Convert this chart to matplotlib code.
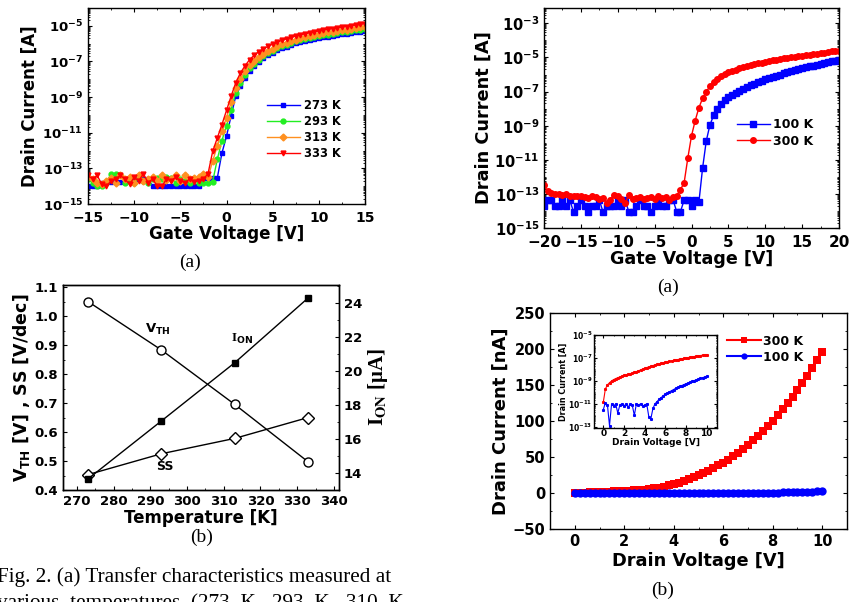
import numpy as np
import matplotlib.pyplot as plt
from matplotlib.ticker import MultipleLocator, LogLocator, NullFormatter

plt.rcParams['font.family'] = ['DejaVu Sans']
plt.rcParams['font.weight'] = 'bold'
plt.rcParams['axes.labelweight'] = 'bold'
plt.rcParams['mathtext.default'] = 'bf'
plt.rcParams['xtick.direction'] = 'in'
plt.rcParams['ytick.direction'] = 'in'
plt.rcParams['axes.linewidth'] = 1.0

# ---------------- data: transfer curves vs temperature (log10 of I_D [A]) ----
vg_a = np.arange(-15, 15.01, 0.5)
temp_labels = ['273 K', '293 K', '313 K', '333 K']
temp_colors = ['#0000ff', '#22ee22', '#ff9020', '#ff0000']
temp_markers = ['s', 'o', 'D', 'v']
logid_273 = [-14.0, -14.0, -14.0, -13.8, -13.75, -13.75, -13.75, -13.75, -13.75, -13.6,
             -13.6, -13.6, -13.6, -13.6, -14.0, -14.0, -14.0, -14.0, -14.0, -14.0,
             -14.0, -14.0, -14.0, -14.0, -14.0,
             -13.55, -13.55, -13.55, -13.55, -12.15, -11.2, -10.05, -8.95, -8.4, -7.95,
             -7.52, -7.25, -7.02, -6.83, -6.65, -6.50, -6.38, -6.27, -6.17, -6.07,
             -5.99, -5.92, -5.85, -5.79, -5.74, -5.69, -5.64, -5.60, -5.56, -5.52,
             -5.48, -5.44, -5.40, -5.36, -5.32, -5.28]
logid_293 = [-13.6, -13.8, -14.0, -14.0, -13.8, -13.3, -13.3, -13.4, -13.8, -13.6,
             -13.8, -13.55, -13.7, -13.8, -13.6, -13.55, -13.6, -13.5, -13.55, -13.8,
             -13.6, -13.7, -13.8, -13.6, -13.8,
             -13.8, -13.8, -13.75, -12.5, -11.45, -10.6, -9.7, -8.75, -8.2, -7.75,
             -7.38, -7.12, -6.9, -6.71, -6.54, -6.39, -6.27, -6.16, -6.06, -5.96,
             -5.88, -5.81, -5.74, -5.68, -5.63, -5.58, -5.53, -5.49, -5.45, -5.41,
             -5.37, -5.33, -5.29, -5.25, -5.21, -5.17]
logid_313 = [-13.5, -13.6, -13.8, -13.9, -13.7, -13.55, -13.8, -13.4, -13.6, -13.5,
             -13.8, -13.4, -13.7, -13.6, -13.5, -13.7, -13.4, -13.65, -13.6, -13.4,
             -13.7, -13.35, -13.6, -13.55, -13.5,
             -13.3, -13.5, -12.6, -11.75, -10.9, -10.15, -9.3, -8.5, -8.0, -7.55,
             -7.2, -6.97, -6.76, -6.58, -6.42, -6.28, -6.15, -6.04, -5.94, -5.85,
             -5.77, -5.70, -5.63, -5.57, -5.51, -5.46, -5.41, -5.37, -5.33, -5.29,
             -5.25, -5.21, -5.17, -5.13, -5.09, -5.05]
logid_333 = [-13.4, -13.6, -13.4, -13.9, -14.0, -13.7, -13.6, -13.4, -13.6, -13.9,
             -13.5, -13.7, -13.3, -13.8, -13.6, -14.0, -14.0, -13.6, -13.7, -13.5,
             -13.7, -13.8, -13.6, -13.75, -13.7,
             -13.6, -13.3, -12.05, -11.3, -10.55, -9.75, -8.95, -8.2, -7.65, -7.25,
             -6.9, -6.65, -6.45, -6.29, -6.15, -6.03, -5.92, -5.82, -5.73, -5.65,
             -5.58, -5.51, -5.45, -5.39, -5.34, -5.29, -5.24, -5.20, -5.16, -5.12,
             -5.08, -5.04, -5.00, -4.96, -4.92, -4.88]

# ---------------- data: transfer curves 100 K / 300 K -----------------------
vg_b = np.arange(-20, 20.01, 0.5)
logid_100k = [-13.7, -13.36, -13.36, -13.7, -13.7, -13.36, -13.7, -13.36, -14.05, -13.7,
              -13.36, -13.7, -14.05, -13.7, -13.7, -13.36, -14.05, -13.7, -13.7, -13.7,
              -13.36, -13.7, -13.36, -14.05, -14.05, -13.7, -13.36, -13.7, -13.7, -14.05,
              -13.7, -13.36, -13.7, -13.7, -13.36, -13.36, -14.05, -14.05, -13.36, -13.36,
              -13.7, -13.36, -13.5,
              -11.5, -9.9, -8.95, -8.4, -8.0, -7.7, -7.5, -7.33,
              -7.19, -7.06, -6.94, -6.83, -6.73, -6.63, -6.54, -6.45, -6.37, -6.29,
              -6.21, -6.14, -6.07, -6.0, -5.93, -5.87, -5.81, -5.75, -5.69, -5.63,
              -5.58, -5.53, -5.48, -5.43, -5.38, -5.33, -5.28, -5.23, -5.18, -5.13]
logid_300k = [-12.5, -12.85, -12.95, -13.0, -13.0, -13.05, -13.0, -13.1, -13.15, -13.1,
              -13.15, -13.2, -13.25, -13.15, -13.2, -13.3, -13.25, -13.55, -13.35, -13.05,
              -13.1, -13.3, -13.55, -13.05, -13.3, -13.25, -13.2, -13.3, -13.25, -13.2,
              -13.3, -13.1, -13.25, -13.2, -13.35, -13.2,
              -13.1, -12.75, -12.35, -10.9, -9.6,
              -8.7, -7.95, -7.4, -7.0, -6.7, -6.45, -6.25, -6.1, -5.98, -5.88,
              -5.79, -5.71, -5.64, -5.57, -5.51, -5.45, -5.40, -5.35, -5.30, -5.26,
              -5.21, -5.17, -5.13, -5.09, -5.05, -5.01, -4.98, -4.95, -4.92, -4.89,
              -4.86, -4.83, -4.80, -4.77, -4.74, -4.71, -4.68, -4.65, -4.63, -4.61]

# ---------------- data: parameters vs temperature ---------------------------
temperature = [273, 293, 313, 333]
vth = [1.05, 0.883, 0.695, 0.497]
ss = [0.453, 0.525, 0.578, 0.65]
ion = [13.65, 17.06, 20.49, 24.3]

# ---------------- data: output curves ---------------------------------------
vd = np.linspace(0, 10, 51)
id_300k_nA = [0.014, 0.2, 0.45, 0.7, 1.0, 1.3, 1.6, 1.9, 2.2, 2.6, 3.0,
              3.4, 3.8, 4.3, 4.8, 5.5, 6.4, 7.5, 9.0, 10.7, 12.5,
              14.5, 16.7, 19.1, 21.7, 24.5, 27.6, 30.9, 34.4, 38.2, 42.0,
              46.5, 51.0, 56.0, 61.5, 67.0, 73.0, 79.0, 86.0, 93.0, 100.0,
              108.0, 116.0, 124.5, 133.5, 143.0, 152.5, 163.0, 173.5, 184.5, 196.0]
logid_100k_out = [-11.5, -10.9, -11.1, -12.9, -11.0, -11.2, -11.0, -11.8, -11.1, -11.0,
                  -11.2, -11.0, -11.3, -11.0, -11.1, -12.0, -11.0, -11.1, -11.0, -11.2,
                  -11.1, -11.0, -12.1, -12.3, -11.4, -11.0, -10.8, -10.6, -10.45, -10.3,
                  -10.15, -10.05, -9.95, -9.85, -9.75, -9.65, -9.56, -9.48, -9.4, -9.32,
                  -9.25, -9.18, -9.11, -9.04, -8.97, -8.9, -8.84, -8.78, -8.72, -8.66, -8.6]

W, H = 861, 602


def frame(l, t, r, b):
    return [l / W, 1 - b / H, (r - l) / W, (b - t) / H]


def log_labels(ax, exps, fs):
    ax.set_yscale('log')
    ax.set_yticks([10.0 ** e for e in exps],
                  labels=['10$^{%d}$' % e for e in exps], fontsize=fs)
    ax.yaxis.set_minor_locator(LogLocator(base=10, subs=np.arange(1, 10), numticks=40))
    ax.yaxis.set_minor_formatter(NullFormatter())


fig = plt.figure(figsize=(W / 100, H / 100), dpi=100)

# ---- (a) top-left
ax1 = fig.add_axes(frame(88, 8, 365, 204))
for lg, lab, c, m in zip([logid_273, logid_293, logid_313, logid_333],
                         temp_labels, temp_colors, temp_markers):
    ax1.plot(vg_a, 10.0 ** np.array(lg), color=c, marker=m, ms=3.5, lw=1.0, label=lab)
ax1.set_xlim(-15, 15)
ax1.set_ylim(1e-15, 1e-4)
log_labels(ax1, [-15, -13, -11, -9, -7, -5], 9.5)
ax1.xaxis.set_major_locator(MultipleLocator(5))
ax1.xaxis.set_minor_locator(MultipleLocator(2.5))
ax1.tick_params(axis='x', labelsize=10, pad=5)
ax1.tick_params(which='both', top=True, right=True, length=3)
ax1.tick_params(which='minor', length=1.5)
ax1.set_xlabel('Gate Voltage [V]', fontsize=12, labelpad=0)
ax1.set_ylabel('Drain Current [A]', fontsize=12, labelpad=3)
ax1.legend(loc='upper left', bbox_to_anchor=(0.645, 0.535), frameon=False,
           fontsize=8.3, handlelength=2.9, handletextpad=0.3, labelspacing=0.25,
           borderpad=0, borderaxespad=0)
fig.text(190 / W, 1 - 262 / H, '(a)', family='Liberation Serif', weight='normal',
         fontsize=14, ha='center', va='center')

# ---- (a) top-right
ax2 = fig.add_axes(frame(544, 8, 839, 228))
ax2.plot(vg_b, 10.0 ** np.array(logid_100k), color='#0000ff', marker='s', ms=4,
         lw=1.0, label='100 K')
ax2.plot(vg_b, 10.0 ** np.array(logid_300k), color='#ff0000', marker='o', ms=4,
         lw=1.0, label='300 K')
ax2.set_xlim(-20, 20)
ax2.set_ylim(1e-15, 10 ** -2.1)
log_labels(ax2, [-15, -13, -11, -9, -7, -5, -3], 10.5)
ax2.xaxis.set_major_locator(MultipleLocator(5))
ax2.xaxis.set_minor_locator(MultipleLocator(2.5))
ax2.tick_params(axis='x', labelsize=11, pad=5)
ax2.tick_params(which='both', top=True, right=True, length=3)
ax2.tick_params(which='minor', length=1.5)
ax2.set_xlabel('Gate Voltage [V]', fontsize=12.6, labelpad=0)
ax2.set_ylabel('Drain Current [A]', fontsize=12.8, labelpad=1)
ax2.legend(loc='upper left', bbox_to_anchor=(0.655, 0.5), frameon=False,
           fontsize=9, handlelength=2.6, handletextpad=0.3, labelspacing=0.3,
           borderpad=0, borderaxespad=0)
fig.text(668 / W, 1 - 287 / H, '(a)', family='Liberation Serif', weight='normal',
         fontsize=14, ha='center', va='center')

# ---- (b) bottom-left
ax3 = fig.add_axes(frame(63, 285, 339, 490))
ax3.plot(temperature, vth, color='k', lw=1.0, marker='o', ms=6.5, mfc='white', mec='k')
ax3.plot(temperature, ss, color='k', lw=1.0, marker='D', ms=6, mfc='white', mec='k')
ax3.set_xlim(266.2, 341.4)
ax3.set_ylim(0.4, 1.107)
ax3.xaxis.set_major_locator(MultipleLocator(10))
ax3.xaxis.set_minor_locator(MultipleLocator(5))
ax3.yaxis.set_major_locator(MultipleLocator(0.1))
ax3.yaxis.set_minor_locator(MultipleLocator(0.05))
ax3.tick_params(labelsize=9.5, length=3)
ax3.tick_params(which='minor', length=1.5)
ax3.set_xlabel('Temperature [K]', fontsize=12, labelpad=1)
ax3.set_ylabel('V$_{TH}$ [V] , SS [V/dec]', fontsize=12.5, labelpad=2)
ax3.text(288.5, 0.955, 'V$_{TH}$', fontsize=9.5, va='center')
ax3.text(312.0, 0.92, 'I$_{ON}$', fontsize=9.5, va='center',
         family='Liberation Serif')
ax3.text(291.5, 0.48, 'SS', fontsize=9, va='center')
ax3b = ax3.twinx()
ax3b.plot(temperature, ion, color='k', lw=1.0, marker='s', ms=5, mfc='k', mec='k')
ax3b.set_ylim(13, 25.06)
ax3b.yaxis.set_major_locator(MultipleLocator(2))
ax3b.yaxis.set_minor_locator(MultipleLocator(1))
ax3b.tick_params(labelsize=9.5, length=3)
ax3b.tick_params(which='minor', length=1.5)
ax3b.set_ylabel(r'I$_{\mathbf{ON}}$ [μA]', family='Liberation Serif',
                math_fontfamily='stix', fontsize=15, labelpad=3)
fig.text(202 / W, 1 - 537 / H, '(b)', family='Liberation Serif', weight='normal',
         fontsize=14, ha='center', va='center')
fig.text(-0.004, 1 - 582 / H, 'Fig. 2. (a) Transfer characteristics measured at',
         family='Liberation Serif', weight='normal', fontsize=15.3, va='baseline')
fig.text(-0.004, 1 - 608 / H, 'various  temperatures  (273  K,  293  K,  310  K,',
         family='Liberation Serif', weight='normal', fontsize=15.3, va='baseline')

# ---- (b) bottom-right
ax4 = fig.add_axes(frame(550, 313, 847, 529))
ax4.plot(vd, id_300k_nA, color='#ff0000', marker='s', ms=6, mew=0, lw=1.5,
         label='300 K')
ax4.plot(vd, 10.0 ** np.array(logid_100k_out) * 1e9, color='#0000ff', marker='o',
         ms=6, mew=0, lw=1.5, label='100 K')
ax4.set_xlim(-1, 11)
ax4.set_ylim(-50, 250)
ax4.xaxis.set_major_locator(MultipleLocator(2))
ax4.xaxis.set_minor_locator(MultipleLocator(1))
ax4.yaxis.set_major_locator(MultipleLocator(50))
ax4.yaxis.set_minor_locator(MultipleLocator(25))
ax4.tick_params(labelsize=10.5, length=3)
ax4.tick_params(which='both', top=True, right=True)
ax4.tick_params(which='minor', length=1.5)
ax4.set_xlabel('Drain Voltage [V]', fontsize=12.8, labelpad=2)
ax4.set_ylabel('Drain Current [nA]', fontsize=13, labelpad=2)
ax4.legend(loc='upper left', bbox_to_anchor=(0.596, 0.9), frameon=False,
           fontsize=9, handlelength=2.7, handletextpad=0.2, labelspacing=0.25,
           borderpad=0, borderaxespad=0, markerscale=0.75)
fig.text(663 / W, 1 - 590 / H, '(b)', family='Liberation Serif', weight='normal',
         fontsize=14, ha='center', va='center')

# inset
ax5 = fig.add_axes(frame(594, 335, 717, 428))
ax5.plot(vd, np.array(id_300k_nA) * 1e-9, color='#ff0000', marker='s', ms=1.2, lw=0.8)
ax5.plot(vd, 10.0 ** np.array(logid_100k_out), color='#0000ff', marker='s', ms=1.2,
         lw=0.8)
ax5.set_xlim(-0.9, 11)
ax5.set_ylim(10 ** -13.1, 1e-5)
log_labels(ax5, [-13, -11, -9, -7, -5], 5.5)
ax5.xaxis.set_major_locator(MultipleLocator(2))
ax5.xaxis.set_minor_locator(MultipleLocator(1))
ax5.tick_params(axis='x', labelsize=6.5, pad=1)
ax5.tick_params(axis='y', pad=1)
ax5.tick_params(which='both', top=True, right=True, length=2)
ax5.tick_params(which='minor', length=1)
ax5.set_xlabel('Drain Voltage [V]', fontsize=6.5, labelpad=0)
ax5.set_ylabel('Drain Current [A]', fontsize=5.8, labelpad=0)

fig.savefig('out.png', dpi=100)
